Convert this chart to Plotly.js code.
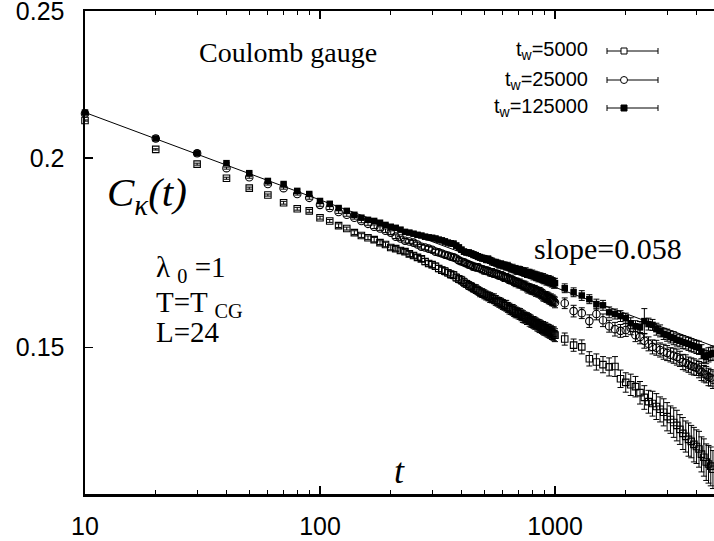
<!DOCTYPE html>
<html><head><meta charset="utf-8">
<script src="https://cdn.plot.ly/plotly-3.0.1.min.js"></script>
<style>html,body{margin:0;padding:0;background:#fff}</style>
</head><body>
<div id="chart" style="width:714px;height:541px"></div>
<script>
// times t
const tValues = [10,20,30,40,50,60,70,80,90,100,
110,120,130,140,150,160,170,180,190,200,
210,220,230,240,250,260,270,280,290,300,
310,320,330,340,350,360,370,380,390,400,
410,420,430,440,450,460,470,480,490,500,
510,520,530,540,550,560,570,580,590,600,
610,620,630,640,650,660,670,680,690,700,
710,720,730,740,750,760,770,780,790,800,
810,820,830,840,850,860,870,880,890,900,
910,920,930,940,950,960,970,980,990,1000,
1100,1200,1300,1400,1500,1600,1700,1800,1900,2000,
2100,2200,2300,2400,2500,2600,2700,2800,2900,3000,
3100,3200,3300,3400,3500,3600,3700,3800,3900,4000,
4100,4200,4300,4400,4500,4600,4700];

const c5000 = [0.2118,0.2027,0.1982,0.1940,0.1911,0.1891,0.1869,0.1852,0.1846,0.1827,
0.1818,0.1805,0.1797,0.1786,0.1778,0.1772,0.1767,0.1759,0.1754,0.1746,
0.1743,0.1738,0.1735,0.1729,0.1725,0.1720,0.1716,0.1709,0.1704,0.1701,
0.1697,0.1691,0.1687,0.1684,0.1680,0.1676,0.1674,0.1668,0.1664,0.1661,
0.1656,0.1652,0.1648,0.1645,0.1641,0.1639,0.1635,0.1631,0.1629,0.1626,
0.1623,0.1621,0.1618,0.1616,0.1615,0.1611,0.1608,0.1606,0.1604,0.1601,
0.1599,0.1598,0.1594,0.1591,0.1589,0.1588,0.1585,0.1582,0.1581,0.1579,
0.1578,0.1575,0.1572,0.1570,0.1569,0.1567,0.1566,0.1563,0.1561,0.1559,
0.1558,0.1556,0.1555,0.1552,0.1551,0.1549,0.1548,0.1546,0.1545,0.1542,
0.1543,0.1540,0.1539,0.1538,0.1535,0.1536,0.1533,0.1532,0.1531,0.1528,
0.1519,0.1505,0.1501,0.1474,0.1467,0.1461,0.1456,0.1457,0.1430,0.1422,
0.1417,0.1413,0.1400,0.1390,0.1381,0.1377,0.1371,0.1365,0.1359,0.1350,
0.1344,0.1338,0.1332,0.1324,0.1316,0.1310,0.1304,0.1300,0.1294,0.1290,
0.1285,0.1275,0.1269,0.1260,0.1256,0.1252,0.1246];

const e5000 = [0.0002,0.0002,0.0003,0.0003,0.0003,0.0003,0.0004,0.0004,0.0004,0.0004,
0.0004,0.0005,0.0004,0.0005,0.0005,0.0005,0.0006,0.0005,0.0006,0.0006,
0.0006,0.0007,0.0006,0.0007,0.0007,0.0007,0.0007,0.0008,0.0007,0.0008,
0.0008,0.0008,0.0008,0.0009,0.0008,0.0009,0.0009,0.0009,0.0009,0.0010,
0.0010,0.0009,0.0010,0.0010,0.0010,0.0011,0.0010,0.0011,0.0011,0.0011,
0.0011,0.0011,0.0012,0.0011,0.0012,0.0012,0.0011,0.0012,0.0012,0.0012,
0.0012,0.0013,0.0012,0.0013,0.0012,0.0013,0.0013,0.0013,0.0012,0.0013,
0.0013,0.0013,0.0014,0.0013,0.0013,0.0014,0.0013,0.0014,0.0014,0.0013,
0.0014,0.0014,0.0013,0.0014,0.0014,0.0015,0.0014,0.0014,0.0015,0.0014,
0.0015,0.0014,0.0015,0.0015,0.0014,0.0015,0.0015,0.0015,0.0016,0.0015,
0.0014,0.0014,0.0016,0.0016,0.0018,0.0018,0.0020,0.0022,0.0019,0.0021,
0.0023,0.0022,0.0024,0.0025,0.0024,0.0026,0.0027,0.0026,0.0028,0.0029,
0.0028,0.0030,0.0031,0.0030,0.0032,0.0031,0.0033,0.0032,0.0034,0.0033,
0.0035,0.0034,0.0036,0.0035,0.0036,0.0037,0.0036];

const c25000 = [0.2141,0.2061,0.2015,0.1970,0.1943,0.1923,0.1911,0.1894,0.1883,0.1863,
0.1854,0.1843,0.1835,0.1827,0.1818,0.1810,0.1802,0.1797,0.1791,0.1786,
0.1775,0.1770,0.1764,0.1762,0.1759,0.1754,0.1748,0.1746,0.1743,0.1740,
0.1735,0.1733,0.1730,0.1727,0.1725,0.1722,0.1720,0.1717,0.1712,0.1709,
0.1707,0.1704,0.1701,0.1699,0.1696,0.1694,0.1694,0.1691,0.1689,0.1686,
0.1686,0.1684,0.1681,0.1681,0.1678,0.1678,0.1676,0.1673,0.1673,0.1671,
0.1668,0.1668,0.1666,0.1663,0.1663,0.1661,0.1658,0.1656,0.1656,0.1653,
0.1653,0.1651,0.1648,0.1648,0.1646,0.1643,0.1641,0.1641,0.1638,0.1638,
0.1636,0.1636,0.1633,0.1633,0.1631,0.1631,0.1628,0.1626,0.1623,0.1621,
0.1621,0.1619,0.1619,0.1616,0.1614,0.1614,0.1611,0.1611,0.1609,0.1606,
0.1604,0.1585,0.1580,0.1561,0.1578,0.1563,0.1549,0.1542,0.1538,0.1540,
0.1545,0.1528,0.1524,0.1515,0.1508,0.1501,0.1499,0.1494,0.1490,0.1487,
0.1483,0.1481,0.1478,0.1474,0.1467,0.1465,0.1461,0.1458,0.1456,0.1454,
0.1450,0.1445,0.1441,0.1439,0.1434,0.1432,0.1428];

const e25000 = [0.0002,0.0002,0.0002,0.0003,0.0003,0.0003,0.0003,0.0003,0.0004,0.0004,
0.0004,0.0004,0.0004,0.0004,0.0005,0.0004,0.0005,0.0005,0.0005,0.0005,
0.0005,0.0005,0.0006,0.0005,0.0006,0.0006,0.0006,0.0006,0.0006,0.0007,
0.0006,0.0007,0.0007,0.0007,0.0007,0.0007,0.0008,0.0007,0.0008,0.0008,
0.0008,0.0008,0.0008,0.0008,0.0009,0.0008,0.0009,0.0008,0.0009,0.0009,
0.0009,0.0009,0.0009,0.0010,0.0009,0.0009,0.0010,0.0009,0.0010,0.0010,
0.0010,0.0010,0.0010,0.0010,0.0011,0.0010,0.0010,0.0011,0.0010,0.0011,
0.0011,0.0010,0.0011,0.0011,0.0011,0.0011,0.0012,0.0011,0.0011,0.0012,
0.0011,0.0012,0.0012,0.0011,0.0012,0.0012,0.0012,0.0012,0.0013,0.0012,
0.0012,0.0013,0.0012,0.0013,0.0012,0.0013,0.0013,0.0013,0.0012,0.0013,
0.0013,0.0014,0.0013,0.0015,0.0014,0.0015,0.0014,0.0016,0.0015,0.0015,
0.0016,0.0015,0.0016,0.0017,0.0016,0.0016,0.0017,0.0016,0.0017,0.0017,
0.0016,0.0017,0.0018,0.0017,0.0017,0.0018,0.0017,0.0018,0.0018,0.0017,
0.0018,0.0019,0.0018,0.0018,0.0019,0.0018,0.0019];

const c125000 = [0.2144,0.2061,0.2015,0.1985,0.1955,0.1932,0.1923,0.1903,0.1894,0.1874,
0.1866,0.1854,0.1846,0.1835,0.1827,0.1821,0.1818,0.1813,0.1807,0.1802,
0.1799,0.1794,0.1788,0.1786,0.1783,0.1780,0.1778,0.1775,0.1773,0.1772,
0.1770,0.1767,0.1765,0.1762,0.1759,0.1757,0.1756,0.1751,0.1746,0.1740,
0.1735,0.1733,0.1732,0.1730,0.1727,0.1725,0.1722,0.1720,0.1718,0.1717,
0.1714,0.1715,0.1712,0.1709,0.1707,0.1706,0.1704,0.1701,0.1702,0.1699,
0.1699,0.1696,0.1697,0.1694,0.1691,0.1692,0.1689,0.1689,0.1686,0.1687,
0.1686,0.1684,0.1683,0.1681,0.1682,0.1678,0.1679,0.1678,0.1676,0.1676,
0.1673,0.1674,0.1671,0.1671,0.1668,0.1669,0.1668,0.1666,0.1666,0.1663,
0.1664,0.1661,0.1661,0.1661,0.1658,0.1659,0.1656,0.1656,0.1653,0.1654,
0.1641,0.1631,0.1623,0.1614,0.1602,0.1599,0.1582,0.1578,0.1573,0.1568,
0.1556,0.1549,0.1547,0.1561,0.1554,0.1552,0.1542,0.1538,0.1531,0.1528,
0.1524,0.1521,0.1517,0.1515,0.1512,0.1510,0.1508,0.1505,0.1503,0.1501,
0.1499,0.1490,0.1481,0.1478,0.1483,0.1485,0.1487];

const e125000 = [0.0002,0.0002,0.0002,0.0002,0.0003,0.0003,0.0003,0.0003,0.0003,0.0003,
0.0003,0.0004,0.0004,0.0004,0.0004,0.0004,0.0004,0.0005,0.0004,0.0005,
0.0005,0.0005,0.0005,0.0005,0.0005,0.0006,0.0005,0.0006,0.0006,0.0006,
0.0006,0.0006,0.0006,0.0007,0.0006,0.0007,0.0007,0.0007,0.0007,0.0007,
0.0007,0.0007,0.0008,0.0007,0.0008,0.0008,0.0008,0.0008,0.0008,0.0008,
0.0008,0.0009,0.0008,0.0009,0.0008,0.0009,0.0009,0.0009,0.0009,0.0009,
0.0009,0.0009,0.0010,0.0009,0.0009,0.0010,0.0009,0.0010,0.0010,0.0010,
0.0010,0.0010,0.0010,0.0010,0.0011,0.0010,0.0010,0.0011,0.0010,0.0011,
0.0011,0.0010,0.0011,0.0011,0.0011,0.0011,0.0011,0.0011,0.0012,0.0011,
0.0011,0.0012,0.0011,0.0012,0.0011,0.0012,0.0012,0.0011,0.0012,0.0012,
0.0011,0.0011,0.0012,0.0011,0.0012,0.0012,0.0013,0.0012,0.0013,0.0012,
0.0013,0.0013,0.0013,0.0030,0.0014,0.0013,0.0014,0.0014,0.0013,0.0014,
0.0014,0.0015,0.0014,0.0014,0.0015,0.0014,0.0015,0.0015,0.0014,0.0015,
0.0015,0.0016,0.0015,0.0015,0.0016,0.0015,0.0016];

// power-law fit, slope 0.058
const fitT = [10, 4750];
const fitC = [0.2144, 0.1502];

const xTickVals = [10, 100, 1000];
const xTickText = ['10', '100', '1000'];
const xMinorVals = [20,30,40,50,60,70,80,90,200,300,400,500,600,700,800,900,2000,3000,4000];
const yTickVals = [0.15, 0.2, 0.25];
const yTickText = ['0.15', '0.2', '0.25'];
const legendNames = ['t<sub>w</sub>=5000', 't<sub>w</sub>=25000', 't<sub>w</sub>=125000'];

const serif = 'Liberation Serif, Times New Roman, serif';
const sans = 'Liberation Sans, Arial, sans-serif';

function errOpts(arr) {
  return {type: 'data', array: arr, visible: true, color: '#000', thickness: 1, width: 3};
}

const traces = [
  {x: tValues, y: c5000, type: 'scatter', mode: 'markers', cliponaxis: false,
   marker: {symbol: 'square-open', size: 6.5, color: '#000', line: {width: 1.1, color: '#000'}},
   error_y: errOpts(e5000)},
  {x: tValues, y: c25000, type: 'scatter', mode: 'markers', cliponaxis: false,
   marker: {symbol: 'circle-open', size: 7.5, color: '#000', line: {width: 1.1, color: '#000'}},
   error_y: errOpts(e25000)},
  {x: tValues, y: c125000, type: 'scatter', mode: 'markers', cliponaxis: false,
   marker: {symbol: 'square', size: 6.5, color: '#000', line: {width: 0}},
   error_y: errOpts(e125000)},
  {x: fitT, y: fitC, type: 'scatter', mode: 'lines', line: {color: '#000', width: 1}}
];

// pixel -> paper helpers for annotation/legend placement
const L = 85, R = 714, T = 11, B = 494;
const PX = p => (p - L) / (R - L);
const PY = p => (B - p) / (B - T);

function note(text, px, py, xa, font) {
  return {text: text, xref: 'paper', yref: 'paper', x: PX(px), y: PY(py), xanchor: xa, yanchor: 'middle',
    showarrow: false, font: font};
}

const annotations = [
  note('Coulomb gauge', 197, 52, 'left', {family: serif, size: 28, color: '#000'}),
  note('slope=0.058', 532, 249, 'left', {family: serif, size: 30, color: '#000'}),
  note('<i>C</i><sub><i>κ</i></sub><i>(t)</i>', 105, 195, 'left', {family: serif, size: 41, color: '#000'}),
  note('<i>t</i>', 400, 471, 'center', {family: serif, size: 36, color: '#000'}),
  note('λ <sub>0</sub> =1', 154, 269, 'left', {family: serif, size: 29, color: '#000'}),
  note('T=T <sub>CG</sub>', 154, 304, 'left', {family: serif, size: 29, color: '#000'}),
  note('L=24', 154, 332, 'left', {family: serif, size: 29, color: '#000'})
];

const rows = [51, 80, 108];
const shapes = [];
rows.forEach((ry, i) => {
  annotations.push(note(legendNames[i], 590, ry, 'right', {family: sans, size: 20, color: '#000'}));
  shapes.push({type: 'line', xref: 'paper', yref: 'paper', x0: PX(607), x1: PX(658), y0: PY(ry), y1: PY(ry), line: {color: '#000', width: 1}});
  shapes.push({type: 'line', xref: 'paper', yref: 'paper', x0: PX(607), x1: PX(607), y0: PY(ry - 3), y1: PY(ry + 3), line: {color: '#000', width: 1}});
  shapes.push({type: 'line', xref: 'paper', yref: 'paper', x0: PX(658), x1: PX(658), y0: PY(ry - 3), y1: PY(ry + 3), line: {color: '#000', width: 1}});
  if (i === 0) {
    shapes.push({type: 'rect', xref: 'paper', yref: 'paper', x0: PX(621), x1: PX(627), y0: PY(ry - 3), y1: PY(ry + 3), fillcolor: '#fff', line: {color: '#000', width: 1}});
  } else if (i === 1) {
    shapes.push({type: 'circle', xref: 'paper', yref: 'paper', x0: PX(620.5), x1: PX(627.5), y0: PY(ry - 3.5), y1: PY(ry + 3.5), fillcolor: '#fff', line: {color: '#000', width: 1}});
  } else {
    shapes.push({type: 'rect', xref: 'paper', yref: 'paper', x0: PX(621), x1: PX(627), y0: PY(ry - 3), y1: PY(ry + 3), fillcolor: '#000', line: {color: '#000', width: 1}});
  }
});

const layout = {
  width: 714, height: 541,
  margin: {l: L, r: 714 - R, t: T, b: 541 - B, pad: 0},
  paper_bgcolor: '#fff', plot_bgcolor: '#fff',
  showlegend: false,
  xaxis: {
    type: 'log', range: [1, 1 + (R - L) / 235],
    tickmode: 'array', tickvals: xTickVals, ticktext: xTickText,
    ticks: 'inside', ticklen: 8, tickwidth: 1.5, tickcolor: '#000',
    showline: true, linewidth: 2.5, linecolor: '#000', mirror: 'ticks',
    showgrid: false, zeroline: false,
    tickfont: {family: sans, size: 25, color: '#000'},
    ticklabelstandoff: 8, ticklabeloverflow: 'allow',
    minor: {tickmode: 'array', tickvals: xMinorVals, ticks: 'inside', ticklen: 4, tickwidth: 1, tickcolor: '#000', showgrid: false}
  },
  yaxis: {
    type: 'log', range: [Math.log10(0.12), Math.log10(0.2502)],
    tickmode: 'array', tickvals: yTickVals, ticktext: yTickText,
    ticks: 'inside', ticklen: 8, tickwidth: 1.5, tickcolor: '#000',
    showline: true, linewidth: 2.5, linecolor: '#000',
    showgrid: false, zeroline: false,
    tickfont: {family: sans, size: 25, color: '#000'},
    ticklabelstandoff: 13, ticklabeloverflow: 'allow'
  },
  annotations: annotations,
  shapes: shapes
};

Plotly.newPlot('chart', traces, layout, {displayModeBar: false, staticPlot: true});
</script>
</body></html>
